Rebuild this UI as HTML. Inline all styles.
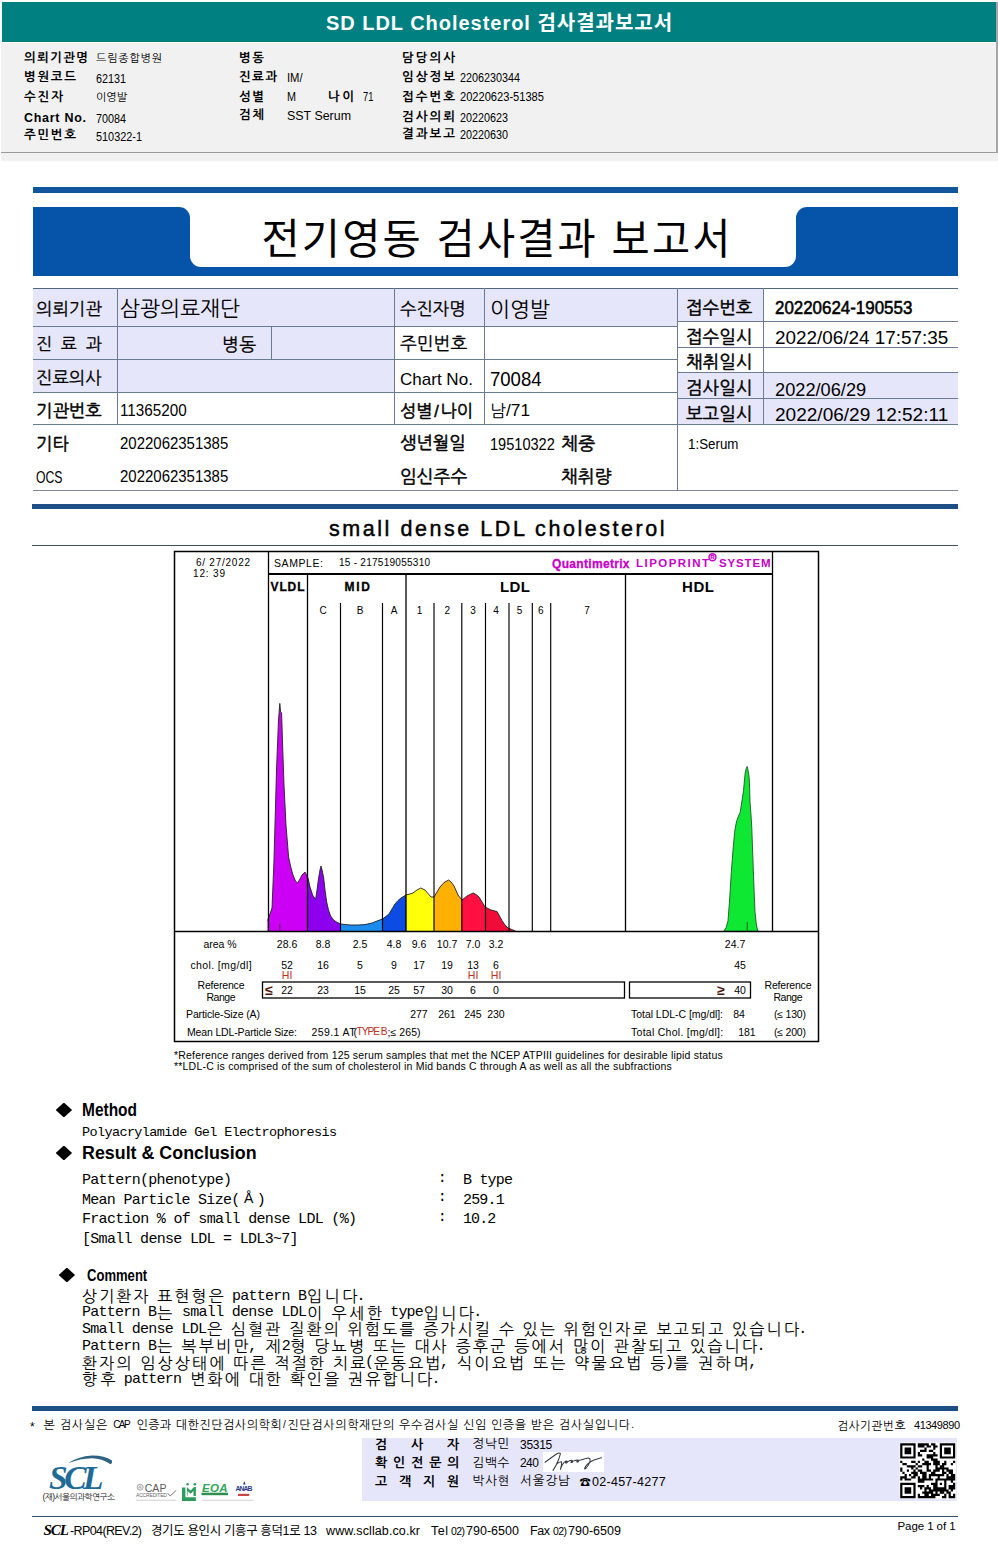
<!DOCTYPE html>
<html lang="ko">
<head>
<meta charset="utf-8">
<title>SD LDL Cholesterol 검사결과보고서</title>
<style>
html,body{margin:0;padding:0;background:#fff}
#page{position:relative;width:998px;height:1564px;overflow:hidden;background:#fff;color:#000;font-family:'Liberation Sans','NanumGothic','Noto Sans CJK KR',sans-serif}
section,header,footer{display:block;margin:0;padding:0}
.b{position:absolute;box-sizing:border-box}
.t{position:absolute;white-space:pre;line-height:1;margin:0;padding:0}
svg{position:absolute;left:0;top:0;overflow:visible}
</style>
</head>
<body>
<div id="page">
<header id="header" aria-label="SD LDL Cholesterol 검사결과보고서">
<div class="b" style="left:2px;top:2px;width:994.5px;height:39.5px;background:#008080;"></div>
<div class="b" style="left:1px;top:43.3px;width:997px;height:117.7px;background:#f1f1f1;"></div>
<div class="b" style="left:1px;top:152px;width:997px;height:1.2px;background:#9a9a9a;"></div>
<div class="b" style="left:996.3px;top:2px;width:1.7px;height:151px;background:#a6a6a6;"></div>
<span class="t" style="top:13.4px;left:326.0px;font-size:20px;font-weight:700;font-family:'Liberation Sans','Noto Sans CJK KR','NanumGothic',sans-serif;color:#fff;letter-spacing:0.97px">SD LDL Cholesterol 검사결과보고서</span>
<span class="t" style="top:51.5px;left:24.0px;font-size:12.5px;font-weight:700;letter-spacing:1.31px">의뢰기관명</span>
<span class="t" style="top:52.9px;left:96.0px;font-size:11px;letter-spacing:0.79px">드림종합병원</span>
<span class="t" style="top:71.3px;left:24.0px;font-size:12.5px;font-weight:700;letter-spacing:1.66px">병원코드</span>
<span class="t" style="top:73.1px;left:96.0px;font-size:12.5px;transform:scaleX(0.863);transform-origin:0 50%">62131</span>
<span class="t" style="top:90.8px;left:24.0px;font-size:12.5px;font-weight:700;letter-spacing:1.87px">수진자</span>
<span class="t" style="top:91.9px;left:96.0px;font-size:11px;letter-spacing:-0.02px">이영발</span>
<span class="t" style="top:111.8px;left:24.0px;font-size:12.5px;font-weight:700;letter-spacing:0.72px">Chart No.</span>
<span class="t" style="top:113.4px;left:96.0px;font-size:12.5px;transform:scaleX(0.863);transform-origin:0 50%">70084</span>
<span class="t" style="top:128.9px;left:24.0px;font-size:12.5px;font-weight:700;letter-spacing:1.66px">주민번호</span>
<span class="t" style="top:130.6px;left:96.0px;font-size:12.5px;transform:scaleX(0.871);transform-origin:0 50%">510322-1</span>
<span class="t" style="top:51.5px;left:239.0px;font-size:12.5px;font-weight:700;letter-spacing:1.48px">병동</span>
<span class="t" style="top:71.3px;left:239.0px;font-size:12.5px;font-weight:700;letter-spacing:1.37px">진료과</span>
<span class="t" style="top:71.9px;left:287.0px;font-size:12.5px;transform:scaleX(0.899);transform-origin:0 50%">IM/</span>
<span class="t" style="top:90.8px;left:239.0px;font-size:12.5px;font-weight:700;letter-spacing:1.48px">성별</span>
<span class="t" style="top:91.2px;left:287.0px;font-size:12.5px;transform:scaleX(0.864);transform-origin:0 50%">M</span>
<span class="t" style="top:90.8px;left:328.0px;font-size:12.5px;font-weight:700;letter-spacing:2.48px">나이</span>
<span class="t" style="top:91.2px;left:363.0px;font-size:12.5px;transform:scaleX(0.748);transform-origin:0 50%">71</span>
<span class="t" style="top:109.4px;left:239.0px;font-size:12.5px;font-weight:700;letter-spacing:1.48px">검체</span>
<span class="t" style="top:109.9px;left:287.0px;font-size:12.5px;transform:scaleX(0.994);transform-origin:0 50%">SST Serum</span>
<span class="t" style="top:51.5px;left:402.0px;font-size:12.5px;font-weight:700;letter-spacing:1.99px">담당의사</span>
<span class="t" style="top:71.3px;left:402.0px;font-size:12.5px;font-weight:700;letter-spacing:1.99px">임상정보</span>
<span class="t" style="top:71.7px;left:459.5px;font-size:12.5px;transform:scaleX(0.863);transform-origin:0 50%">2206230344</span>
<span class="t" style="top:90.8px;left:402.0px;font-size:12.5px;font-weight:700;letter-spacing:1.99px">접수번호</span>
<span class="t" style="top:91.2px;left:459.5px;font-size:12.5px;transform:scaleX(0.888);transform-origin:0 50%">20220623-51385</span>
<span class="t" style="top:111.4px;left:402.0px;font-size:12.5px;font-weight:700;letter-spacing:1.99px">검사의뢰</span>
<span class="t" style="top:111.9px;left:459.5px;font-size:12.5px;transform:scaleX(0.863);transform-origin:0 50%">20220623</span>
<span class="t" style="top:128.2px;left:402.0px;font-size:12.5px;font-weight:700;letter-spacing:1.99px">결과보고</span>
<span class="t" style="top:128.7px;left:459.5px;font-size:12.5px;transform:scaleX(0.863);transform-origin:0 50%">20220630</span>
</header>
<section id="banner" aria-label="전기영동 검사결과 보고서">
<div class="b" style="left:32.5px;top:187.2px;width:925.5px;height:6.3px;background:#11559c;"></div>
<div class="b" style="left:32.5px;top:207.2px;width:925.5px;height:69px;background:#0654aa;"></div>
<div class="b" style="left:190px;top:205px;width:606px;height:62px;background:#fff;border-radius:0 0 11px 11px;"></div>
<div class="b" style="left:170px;top:207.2px;width:20px;height:20px;background:#fff;"></div>
<div class="b" style="left:150px;top:207.2px;width:40px;height:40px;background:#0654aa;border-radius:0 11px 0 0;"></div>
<div class="b" style="left:796px;top:207.2px;width:20px;height:20px;background:#fff;"></div>
<div class="b" style="left:796px;top:207.2px;width:40px;height:40px;background:#0654aa;border-radius:11px 0 0 0;"></div>
<span class="t" style="top:219.0px;left:261.5px;font-size:41.5px;font-family:'Liberation Sans','Noto Sans CJK KR','NanumGothic',sans-serif;letter-spacing:2.16px">전기영동 검사결과 보고서</span>
</section>
<section id="info" aria-label="환자 및 접수 정보">
<div class="b" style="left:33px;top:288px;width:644px;height:38px;background:#e6e6fa;"></div>
<div class="b" style="left:33px;top:326px;width:361px;height:66px;background:#e6e6fa;"></div>
<div class="b" style="left:677px;top:288px;width:86px;height:33px;background:#e6e6fa;"></div>
<div class="b" style="left:677px;top:372px;width:281px;height:52px;background:#e6e6fa;"></div>
<div class="b" style="left:33px;top:287.5px;width:925px;height:1.6px;background:#55657d;"></div>
<div class="b" style="left:33px;top:325.5px;width:644px;height:1.3px;background:#6b7b93;"></div>
<div class="b" style="left:33px;top:359px;width:644px;height:1.3px;background:#6b7b93;"></div>
<div class="b" style="left:33px;top:391.5px;width:644px;height:1.3px;background:#6b7b93;"></div>
<div class="b" style="left:33px;top:423.5px;width:925px;height:1.3px;background:#6b7b93;"></div>
<div class="b" style="left:677px;top:320.5px;width:281px;height:1.3px;background:#6b7b93;"></div>
<div class="b" style="left:677px;top:346.5px;width:281px;height:1.3px;background:#6b7b93;"></div>
<div class="b" style="left:677px;top:372px;width:281px;height:1.3px;background:#6b7b93;"></div>
<div class="b" style="left:677px;top:398px;width:281px;height:1.3px;background:#6b7b93;"></div>
<div class="b" style="left:33px;top:490px;width:925px;height:1.4px;background:#7f8890;"></div>
<div class="b" style="left:117px;top:288px;width:1.3px;height:136px;background:#6b7b93;"></div>
<div class="b" style="left:394px;top:288px;width:1.3px;height:136px;background:#6b7b93;"></div>
<div class="b" style="left:484px;top:288px;width:1.3px;height:136px;background:#6b7b93;"></div>
<div class="b" style="left:677px;top:288px;width:1.3px;height:203px;background:#6b7b93;"></div>
<div class="b" style="left:762.5px;top:288px;width:1.3px;height:136px;background:#6b7b93;"></div>
<div class="b" style="left:270.5px;top:326px;width:1.3px;height:33px;background:#6b7b93;"></div>
<div class="b" style="left:32px;top:504px;width:926px;height:5px;background:#1e4f84;"></div>
<div class="b" style="left:32px;top:545px;width:926px;height:1.3px;background:#3e505e;"></div>
<span class="t" style="top:301.1px;left:36.0px;font-size:17.45px;-webkit-text-stroke:0.3px #000;letter-spacing:0.01px">의뢰기관</span>
<span class="t" style="top:299.3px;left:120.0px;font-size:21.28px;letter-spacing:0.01px">삼광의료재단</span>
<span class="t" style="top:336.4px;left:36.0px;font-size:17px;-webkit-text-stroke:0.3px #000">진</span>
<span class="t" style="top:336.4px;left:61.0px;font-size:17px;-webkit-text-stroke:0.3px #000">료</span>
<span class="t" style="top:336.4px;left:86.0px;font-size:17px;-webkit-text-stroke:0.3px #000">과</span>
<span class="t" style="top:335.8px;left:222.0px;font-size:18.09px;-webkit-text-stroke:0.3px #000">병동</span>
<span class="t" style="top:370.1px;left:36.0px;font-size:17.45px;-webkit-text-stroke:0.3px #000;letter-spacing:0.01px">진료의사</span>
<span class="t" style="top:402.6px;left:36.0px;font-size:17.45px;-webkit-text-stroke:0.5px #000;letter-spacing:0.01px">기관번호</span>
<span class="t" style="top:403.0px;left:120.0px;font-size:16.67px;transform:scaleX(0.915);transform-origin:0 50%">11365200</span>
<span class="t" style="top:435.6px;left:36.0px;font-size:17.45px;-webkit-text-stroke:0.5px #000">기타</span>
<span class="t" style="top:436.0px;left:120.0px;font-size:16.67px;transform:scaleX(0.899);transform-origin:0 50%">2022062351385</span>
<span class="t" style="top:468.9px;left:36.0px;font-size:16.5px;transform:scaleX(.74);transform-origin:0 50%">OCS</span>
<span class="t" style="top:468.7px;left:120.0px;font-size:16.67px;transform:scaleX(0.899);transform-origin:0 50%">2022062351385</span>
<span class="t" style="top:301.1px;left:400.0px;font-size:17.45px;-webkit-text-stroke:0.3px #000;letter-spacing:0.01px">수진자명</span>
<span class="t" style="top:300.3px;left:490.0px;font-size:21.28px;letter-spacing:0.02px">이영발</span>
<span class="t" style="top:335.9px;left:400.0px;font-size:17.87px;-webkit-text-stroke:0.3px #000;letter-spacing:0.01px">주민번호</span>
<span class="t" style="top:370.8px;left:400.0px;font-size:16.2px;transform:scaleX(1.052);transform-origin:0 50%">Chart No.</span>
<span class="t" style="top:368.6px;left:490.0px;font-size:20.6px;transform:scaleX(0.899);transform-origin:0 50%">70084</span>
<span class="t" style="top:402.8px;left:400.0px;font-size:17.23px;-webkit-text-stroke:0.5px #000;letter-spacing:0.02px">성별</span>
<span class="t" style="top:403.3px;left:434.2px;font-size:16.2px;-webkit-text-stroke:0.5px #000">/</span>
<span class="t" style="top:402.8px;left:440.5px;font-size:17.23px;-webkit-text-stroke:0.5px #000;letter-spacing:0.02px">나이</span>
<span class="t" style="top:402.9px;left:490.0px;font-size:17.02px">남</span>
<span class="t" style="top:403.4px;left:506.0px;font-size:16.0px;transform:scaleX(1.079);transform-origin:0 50%">/71</span>
<span class="t" style="top:435.1px;left:400.0px;font-size:17.45px;-webkit-text-stroke:0.5px #000;letter-spacing:0.01px">생년월일</span>
<span class="t" style="top:435.8px;left:490.0px;font-size:16.2px;transform:scaleX(0.900);transform-origin:0 50%">19510322</span>
<span class="t" style="top:434.8px;left:561.0px;font-size:18.09px;-webkit-text-stroke:0.5px #000">체중</span>
<span class="t" style="top:468.9px;left:400.0px;font-size:17.87px;-webkit-text-stroke:0.5px #000;letter-spacing:0.01px">임신주수</span>
<span class="t" style="top:468.9px;left:561.0px;font-size:17.87px;-webkit-text-stroke:0.5px #000;letter-spacing:0.01px">채취량</span>
<span class="t" style="top:299.5px;left:686.0px;font-size:17.66px;-webkit-text-stroke:0.5px #000">접수번호</span>
<span class="t" style="top:299.2px;left:775.0px;font-size:18.3px;-webkit-text-stroke:0.55px #000;transform:scaleX(0.925);transform-origin:0 50%">20220624-190553</span>
<span class="t" style="top:328.5px;left:686.0px;font-size:17.66px;-webkit-text-stroke:0.5px #000">접수일시</span>
<span class="t" style="top:328.8px;left:775.0px;font-size:18.24px;transform:scaleX(1.036);transform-origin:0 50%">2022/06/24 17:57:35</span>
<span class="t" style="top:354.0px;left:686.0px;font-size:17.66px;-webkit-text-stroke:0.5px #000">채취일시</span>
<span class="t" style="top:380.0px;left:686.0px;font-size:17.66px;-webkit-text-stroke:0.5px #000">검사일시</span>
<span class="t" style="top:380.8px;left:775.0px;font-size:18.24px;transform:scaleX(0.999);transform-origin:0 50%">2022/06/29</span>
<span class="t" style="top:406.0px;left:686.0px;font-size:17.66px;-webkit-text-stroke:0.5px #000">보고일시</span>
<span class="t" style="top:406.3px;left:775.0px;font-size:18.24px;transform:scaleX(1.044);transform-origin:0 50%">2022/06/29 12:52:11</span>
<span class="t" style="top:437.1px;left:688.0px;font-size:14.4px;transform:scaleX(0.927);transform-origin:0 50%">1:Serum</span>
</section>
<section id="chart" aria-label="small dense LDL cholesterol">
<svg width="998" height="1564" viewBox="0 0 998 1564">
<path d="M267.5 931.5 L267.5 920.5 L270.0 914.0 L272.0 908.0 L274.0 860.0 L276.5 770.0 L278.5 720.0 L279.8 703.4 L280.6 712.0 L281.6 713.0 L282.6 745.0 L284.0 785.0 L286.0 825.0 L288.6 857.0 L291.0 868.0 L293.0 875.0 L295.5 881.0 L297.6 883.0 L300.0 879.0 L302.0 875.0 L305.0 872.0 L307.5 877.0 L307.5 931.5Z" fill="#cc00f5"/>
<path d="M307.5 931.5 L307.5 877.0 L308.0 878.0 L310.0 887.0 L312.6 895.0 L315.6 899.4 L317.0 890.0 L318.6 878.0 L320.0 870.0 L321.0 866.0 L322.3 871.0 L323.7 878.0 L325.0 890.0 L326.7 902.0 L328.5 910.0 L330.6 916.0 L333.5 920.0 L336.6 922.0 L340.5 924.0 L340.5 931.5Z" fill="#8c00ee"/>
<path d="M340.5 931.5 L340.5 924.0 L350.0 925.0 L358.0 925.0 L365.0 924.6 L372.0 923.0 L377.0 921.0 L382.5 919.0 L382.5 931.5Z" fill="#1a8cee"/>
<path d="M382.5 931.5 L382.5 919.0 L382.6 919.0 L389.0 914.0 L392.0 909.0 L395.0 904.0 L398.0 900.5 L401.0 898.0 L406.0 895.0 L406.0 931.5Z" fill="#0c4ce4"/>
<path d="M406.0 931.5 L406.0 895.0 L410.0 894.0 L413.0 893.0 L417.0 890.0 L420.8 888.0 L425.0 890.0 L428.0 893.5 L431.0 897.0 L434.0 897.0 L434.0 931.5Z" fill="#ffff0a"/>
<path d="M434.0 931.5 L434.0 897.0 L437.0 892.0 L440.0 887.0 L444.0 882.5 L448.7 880.0 L451.5 882.5 L454.0 886.0 L458.0 895.0 L462.0 900.0 L462.0 931.5Z" fill="#ffb000"/>
<path d="M462.0 931.5 L462.0 900.0 L467.0 896.0 L473.0 893.0 L476.0 894.5 L479.0 897.0 L482.0 902.0 L485.0 907.0 L485.5 907.2 L485.5 931.5Z" fill="#ff1040"/>
<path d="M485.5 931.5 L485.5 907.2 L491.0 910.0 L497.0 911.5 L499.5 916.0 L502.0 920.5 L505.0 925.0 L508.0 928.0 L515.5 931.0 L515.5 931.0 L515.5 931.5Z" fill="#f00c38"/>
<path d="M267.5 920.5 L270.0 914.0 L272.0 908.0 L274.0 860.0 L276.5 770.0 L278.5 720.0 L279.8 703.4 L280.6 712.0 L281.6 713.0 L282.6 745.0 L284.0 785.0 L286.0 825.0 L288.6 857.0 L291.0 868.0 L293.0 875.0 L295.5 881.0 L297.6 883.0 L300.0 879.0 L302.0 875.0 L305.0 872.0 L308.0 878.0 L310.0 887.0 L312.6 895.0 L315.6 899.4 L317.0 890.0 L318.6 878.0 L320.0 870.0 L321.0 866.0 L322.3 871.0 L323.7 878.0 L325.0 890.0 L326.7 902.0 L328.5 910.0 L330.6 916.0 L333.5 920.0 L336.6 922.0 L340.5 924.0 L350.0 925.0 L358.0 925.0 L365.0 924.6 L372.0 923.0 L377.0 921.0 L382.6 919.0 L389.0 914.0 L392.0 909.0 L395.0 904.0 L398.0 900.5 L401.0 898.0 L406.0 895.0 L410.0 894.0 L413.0 893.0 L417.0 890.0 L420.8 888.0 L425.0 890.0 L428.0 893.5 L431.0 897.0 L434.0 897.0 L437.0 892.0 L440.0 887.0 L444.0 882.5 L448.7 880.0 L451.5 882.5 L454.0 886.0 L458.0 895.0 L462.0 900.0 L467.0 896.0 L473.0 893.0 L476.0 894.5 L479.0 897.0 L482.0 902.0 L485.0 907.0 L491.0 910.0 L497.0 911.5 L499.5 916.0 L502.0 920.5 L505.0 925.0 L508.0 928.0 L515.5 931.0" fill="none" stroke="#222" stroke-width="0.9" stroke-linejoin="round"/>
<path d="M723.6 931.4 L726.0 928.0 L728.0 920.8 L729.6 900.0 L731.3 872.3 L733.0 850.0 L734.6 832.6 L735.6 826.0 L736.8 820.5 L738.5 816.0 L740.1 812.7 L741.8 802.0 L743.5 790.7 L744.4 781.0 L745.2 773.0 L746.2 768.5 L747.2 766.5 L748.2 771.0 L749.2 777.5 L749.7 790.0 L750.0 801.7 L751.0 815.0 L751.8 828.0 L752.6 850.0 L753.4 872.0 L754.2 893.0 L755.0 912.0 L756.3 924.0 L757.8 931.4Z" fill="#0ee832" stroke="#1a5a22" stroke-width="0.9" stroke-linejoin="round"/>
<path d="M747.2 922V931.5M279.8 924V931.5" stroke="#333" stroke-width="0.8"/>
<rect x="174.5" y="551.5" width="644" height="490" fill="none" stroke="#000" stroke-width="1.5"/>
<path d="M268.5 551.5V931.5M772.5 551.5V931.5M174.5 931.5H818.5" stroke="#000" stroke-width="1.3" fill="none"/>
<path d="M268.5 574H772.5" stroke="#000" stroke-width="2"/>
<path d="M307.5 574V931.5M406 574V931.5M625.5 574V931.5" stroke="#000" stroke-width="1.3"/>
<path d="M340.5 603V931.5 M382.5 603V931.5 M434 603V931.5 M461.8 603V931.5 M485.5 603V931.5 M509 603V931.5 M532.3 603V931.5 M550.7 603V931.5" stroke="#000" stroke-width="1.15"/>
<rect x="262.5" y="982" width="362" height="16" fill="none" stroke="#000" stroke-width="1.3"/>
<rect x="629.5" y="982" width="121" height="16" fill="none" stroke="#000" stroke-width="1.3"/>
<circle cx="712.5" cy="557.3" r="3.5" fill="#f3c4f3" stroke="#c800c8" stroke-width="1.4"/>
</svg>
<span class="t" style="top:519.0px;left:329.0px;font-size:21.5px;-webkit-text-stroke:0.45px #000;letter-spacing:2.55px">small dense LDL cholesterol</span>
<span class="t" style="top:558.1px;left:196.0px;font-size:10px;letter-spacing:0.75px">6/ 27/2022</span>
<span class="t" style="top:569.1px;left:193.0px;font-size:10px;letter-spacing:0.84px">12: 39</span>
<span class="t" style="top:557.9px;left:274.0px;font-size:10.5px;letter-spacing:0.58px">SAMPLE:</span>
<span class="t" style="top:558.1px;left:339.0px;font-size:10px;letter-spacing:0.27px">15 - 217519055310</span>
<span class="t" style="top:557.9px;left:552.0px;font-size:12px;font-weight:700;color:#c800c8;-webkit-text-stroke:0.3px #c800c8;letter-spacing:0.32px">Quantimetrix</span>
<span class="t" style="top:558.2px;left:636.0px;font-size:11.5px;font-weight:700;color:#c800c8;letter-spacing:1.46px">LIPOPRINT</span>
<span class="t" style="top:558.2px;left:719.0px;font-size:11.5px;font-weight:700;color:#c800c8;letter-spacing:0.84px">SYSTEM</span>
<span class="t" style="top:554.4px;left:710.3px;font-size:6px;font-weight:700;color:#c800c8">R</span>
<span class="t" style="top:581.1px;left:270.5px;font-size:12px;font-weight:700;-webkit-text-stroke:0.3px #000;letter-spacing:0.89px">VLDL</span>
<span class="t" style="top:581.1px;left:344.5px;font-size:12px;font-weight:700;-webkit-text-stroke:0.3px #000;letter-spacing:1.75px">MID</span>
<span class="t" style="top:578.9px;left:500.0px;font-size:15px;font-weight:700;letter-spacing:0.41px">LDL</span>
<span class="t" style="top:578.9px;left:682.0px;font-size:15px;font-weight:700;letter-spacing:0.59px">HDL</span>
<span class="t" style="top:605.5px;left:319.4px;font-size:10px">C</span>
<span class="t" style="top:605.5px;left:356.7px;font-size:10px">B</span>
<span class="t" style="top:605.5px;left:390.7px;font-size:10px">A</span>
<span class="t" style="top:605.5px;left:416.8px;font-size:10px">1</span>
<span class="t" style="top:605.5px;left:444.5px;font-size:10px">2</span>
<span class="t" style="top:605.5px;left:470.2px;font-size:10px">3</span>
<span class="t" style="top:605.5px;left:493.2px;font-size:10px">4</span>
<span class="t" style="top:605.5px;left:516.7px;font-size:10px">5</span>
<span class="t" style="top:605.5px;left:538.0px;font-size:10px">6</span>
<span class="t" style="top:605.5px;left:584.2px;font-size:10px">7</span>
<span class="t" style="top:938.9px;left:203.5px;font-size:10.5px;letter-spacing:-0.06px">area %</span>
<span class="t" style="top:938.9px;left:276.8px;font-size:10.5px">28.6</span>
<span class="t" style="top:938.9px;left:315.7px;font-size:10.5px">8.8</span>
<span class="t" style="top:938.9px;left:352.7px;font-size:10.5px">2.5</span>
<span class="t" style="top:938.9px;left:386.7px;font-size:10.5px">4.8</span>
<span class="t" style="top:938.9px;left:411.7px;font-size:10.5px">9.6</span>
<span class="t" style="top:938.9px;left:436.8px;font-size:10.5px">10.7</span>
<span class="t" style="top:938.9px;left:465.7px;font-size:10.5px">7.0</span>
<span class="t" style="top:938.9px;left:488.7px;font-size:10.5px">3.2</span>
<span class="t" style="top:938.9px;left:724.8px;font-size:10.5px">24.7</span>
<span class="t" style="top:959.9px;left:190.5px;font-size:10.5px;letter-spacing:0.37px">chol. [mg/dl]</span>
<span class="t" style="top:959.9px;left:281.2px;font-size:10.5px">52</span>
<span class="t" style="top:959.9px;left:317.2px;font-size:10.5px">16</span>
<span class="t" style="top:959.9px;left:357.1px;font-size:10.5px">5</span>
<span class="t" style="top:959.9px;left:391.1px;font-size:10.5px">9</span>
<span class="t" style="top:959.9px;left:413.2px;font-size:10.5px">17</span>
<span class="t" style="top:959.9px;left:441.2px;font-size:10.5px">19</span>
<span class="t" style="top:959.9px;left:467.2px;font-size:10.5px">13</span>
<span class="t" style="top:959.9px;left:493.1px;font-size:10.5px">6</span>
<span class="t" style="top:959.9px;left:734.2px;font-size:10.5px">45</span>
<span class="t" style="top:970.2px;left:281.8px;font-size:10.5px;color:#c03020">HI</span>
<span class="t" style="top:970.2px;left:467.8px;font-size:10.5px;color:#c03020">HI</span>
<span class="t" style="top:970.2px;left:490.8px;font-size:10.5px;color:#c03020">HI</span>
<span class="t" style="top:980.4px;left:197.5px;font-size:10.5px;letter-spacing:-0.18px">Reference</span>
<span class="t" style="top:991.9px;left:206.5px;font-size:10.5px;letter-spacing:-0.49px">Range</span>
<span class="t" style="top:980.4px;left:764.5px;font-size:10.5px;letter-spacing:-0.18px">Reference</span>
<span class="t" style="top:991.9px;left:773.5px;font-size:10.5px;letter-spacing:-0.49px">Range</span>
<span class="t" style="top:982.6px;left:265.2px;font-size:14px;font-weight:700;color:#4a1808">≤</span>
<span class="t" style="top:985.4px;left:281.2px;font-size:10.5px">22</span>
<span class="t" style="top:985.4px;left:317.2px;font-size:10.5px">23</span>
<span class="t" style="top:985.4px;left:354.2px;font-size:10.5px">15</span>
<span class="t" style="top:985.4px;left:388.2px;font-size:10.5px">25</span>
<span class="t" style="top:985.4px;left:413.2px;font-size:10.5px">57</span>
<span class="t" style="top:985.4px;left:441.2px;font-size:10.5px">30</span>
<span class="t" style="top:985.4px;left:470.1px;font-size:10.5px">6</span>
<span class="t" style="top:985.4px;left:493.1px;font-size:10.5px">0</span>
<span class="t" style="top:982.6px;left:717.2px;font-size:14px;font-weight:700;color:#4a1808">≥</span>
<span class="t" style="top:985.4px;left:734.2px;font-size:10.5px">40</span>
<span class="t" style="top:1008.9px;left:186.0px;font-size:10.5px;letter-spacing:-0.12px">Particle-Size (A)</span>
<span class="t" style="top:1008.9px;left:410.2px;font-size:10.5px">277</span>
<span class="t" style="top:1008.9px;left:438.2px;font-size:10.5px">261</span>
<span class="t" style="top:1008.9px;left:464.2px;font-size:10.5px">245</span>
<span class="t" style="top:1008.9px;left:487.2px;font-size:10.5px">230</span>
<span class="t" style="top:1008.9px;left:631.0px;font-size:10.5px;letter-spacing:-0.04px">Total LDL-C [mg/dl]:</span>
<span class="t" style="top:1008.9px;left:733.2px;font-size:10.5px">84</span>
<span class="t" style="top:1008.9px;left:774.0px;font-size:10.5px;letter-spacing:-0.20px">(≤ 130)</span>
<span class="t" style="top:1026.9px;left:187.0px;font-size:10.5px;letter-spacing:-0.15px">Mean LDL-Particle Size:</span>
<span class="t" style="top:1026.9px;left:311.6px;font-size:10.5px;letter-spacing:0.39px">259.1 AT</span>
<span class="t" style="top:1026.9px;left:353.5px;font-size:10.5px">(</span>
<span class="t" style="top:1027.0px;left:356.5px;font-size:10.3px;color:#c03020;letter-spacing:-1.12px">TYPE B</span>
<span class="t" style="top:1026.9px;left:387.6px;font-size:10.5px;letter-spacing:0.06px">;≤ 265)</span>
<span class="t" style="top:1026.9px;left:631.0px;font-size:10.5px;letter-spacing:0.27px">Total Chol. [mg/dl]:</span>
<span class="t" style="top:1026.9px;left:738.2px;font-size:10.5px">181</span>
<span class="t" style="top:1026.9px;left:774.0px;font-size:10.5px;letter-spacing:-0.20px">(≤ 200)</span>
<span class="t" style="top:1049.9px;left:174.0px;font-size:10.5px;letter-spacing:0.19px">*Reference ranges derived from 125 serum samples that met the NCEP ATPIII guidelines for desirable lipid status</span>
<span class="t" style="top:1060.9px;left:174.0px;font-size:10.5px;letter-spacing:0.20px">**LDL-C is comprised of the sum of cholesterol in Mid bands C through A as well as all the subfractions</span>
</section>
<section id="result" aria-label="Method, Result and Comment">
<div class="b" style="left:55.7px;top:1102.6px;width:16.4px;height:14.8px;background:#000;clip-path:polygon(50% 0,100% 50%,50% 100%,0 50%)"></div>
<div class="b" style="left:55.7px;top:1145.6px;width:16.4px;height:14.8px;background:#000;clip-path:polygon(50% 0,100% 50%,50% 100%,0 50%)"></div>
<div class="b" style="left:58.7px;top:1267.6px;width:16.4px;height:14.8px;background:#000;clip-path:polygon(50% 0,100% 50%,50% 100%,0 50%)"></div>
<span class="t" style="top:1102.4px;left:82.0px;font-size:17.5px;font-weight:700;transform:scaleX(0.884);transform-origin:0 50%">Method</span>
<span class="t" style="top:1125.7px;left:82.0px;font-size:13.5px;font-family:'Liberation Mono','NanumGothic','Noto Sans CJK KR',monospace;letter-spacing:-0.62px">Polyacrylamide Gel Electrophoresis</span>
<span class="t" style="top:1144.9px;left:82.0px;font-size:17.5px;font-weight:700;transform:scaleX(1.020);transform-origin:0 50%">Result &amp; Conclusion</span>
<span class="t" style="top:1172.5px;left:82.0px;font-size:15.0px;font-family:'Liberation Mono','NanumGothic','Noto Sans CJK KR',monospace;letter-spacing:-0.71px">Pattern(phenotype)</span>
<span class="t" style="top:1192.5px;left:82.0px;font-size:15.0px;font-family:'Liberation Mono','NanumGothic','Noto Sans CJK KR',monospace;letter-spacing:-0.71px">Mean Particle Size(</span>
<span class="t" style="top:1191.1px;left:244.0px;font-size:14px">Å</span>
<span class="t" style="top:1192.5px;left:256.7px;font-size:15.0px;font-family:'Liberation Mono','NanumGothic','Noto Sans CJK KR',monospace">)</span>
<span class="t" style="top:1212.0px;left:82.0px;font-size:15.0px;font-family:'Liberation Mono','NanumGothic','Noto Sans CJK KR',monospace;letter-spacing:-0.69px">Fraction % of small dense LDL (%)</span>
<span class="t" style="top:1231.5px;left:82.0px;font-size:15.0px;font-family:'Liberation Mono','NanumGothic','Noto Sans CJK KR',monospace;letter-spacing:-0.70px">[Small dense LDL = LDL3~7]</span>
<span class="t" style="top:1170.5px;left:437.7px;font-size:15.0px;font-family:'Liberation Mono','NanumGothic','Noto Sans CJK KR',monospace">:</span>
<span class="t" style="top:1190.0px;left:437.7px;font-size:15.0px;font-family:'Liberation Mono','NanumGothic','Noto Sans CJK KR',monospace">:</span>
<span class="t" style="top:1209.5px;left:437.7px;font-size:15.0px;font-family:'Liberation Mono','NanumGothic','Noto Sans CJK KR',monospace">:</span>
<span class="t" style="top:1172.5px;left:463.0px;font-size:15.0px;font-family:'Liberation Mono','NanumGothic','Noto Sans CJK KR',monospace;letter-spacing:-0.80px">B type</span>
<span class="t" style="top:1192.5px;left:463.0px;font-size:15.0px;font-family:'Liberation Mono','NanumGothic','Noto Sans CJK KR',monospace;letter-spacing:-0.84px">259.1</span>
<span class="t" style="top:1212.0px;left:463.0px;font-size:15.0px;font-family:'Liberation Mono','NanumGothic','Noto Sans CJK KR',monospace;letter-spacing:-0.89px">10.2</span>
<span class="t" style="top:1267.2px;left:87.0px;font-size:17px;font-weight:700;transform:scaleX(0.768);transform-origin:0 50%">Comment</span>
<span class="t" style="top:1287.9px;left:82.0px;font-size:16.08px;letter-spacing:2.03px">상기환자 표현형은</span>
<span class="t" style="top:1288.5px;left:232.0px;font-size:15.0px;font-family:'Liberation Mono','NanumGothic','Noto Sans CJK KR',monospace;letter-spacing:-0.75px">pattern B</span>
<span class="t" style="top:1287.9px;left:307.0px;font-size:16.08px;letter-spacing:2.33px">입니다</span>
<span class="t" style="top:1288.5px;left:356.6px;font-size:15.0px;font-family:'Liberation Mono','NanumGothic','Noto Sans CJK KR',monospace">.</span>
<span class="t" style="top:1305.2px;left:82.0px;font-size:15.0px;font-family:'Liberation Mono','NanumGothic','Noto Sans CJK KR',monospace;letter-spacing:-0.75px">Pattern B</span>
<span class="t" style="top:1304.6px;left:157.0px;font-size:16.08px">는</span>
<span class="t" style="top:1305.2px;left:182.0px;font-size:15.0px;font-family:'Liberation Mono','NanumGothic','Noto Sans CJK KR',monospace;letter-spacing:-0.72px">small dense LDL</span>
<span class="t" style="top:1304.6px;left:307.0px;font-size:16.08px;letter-spacing:2.52px">이 우세한</span>
<span class="t" style="top:1305.2px;left:390.3px;font-size:15.0px;font-family:'Liberation Mono','NanumGothic','Noto Sans CJK KR',monospace;letter-spacing:-0.89px">type</span>
<span class="t" style="top:1304.6px;left:423.7px;font-size:16.08px;letter-spacing:2.33px">입니다</span>
<span class="t" style="top:1305.2px;left:473.3px;font-size:15.0px;font-family:'Liberation Mono','NanumGothic','Noto Sans CJK KR',monospace">.</span>
<span class="t" style="top:1321.8px;left:82.0px;font-size:15.0px;font-family:'Liberation Mono','NanumGothic','Noto Sans CJK KR',monospace;letter-spacing:-0.72px">Small dense LDL</span>
<span class="t" style="top:1321.2px;left:207.0px;font-size:16.08px;letter-spacing:2.13px">은 심혈관 질환의 위험도를 증가시킬 수 있는 위험인자로 보고되고 있습니다</span>
<span class="t" style="top:1321.8px;left:798.3px;font-size:15.0px;font-family:'Liberation Mono','NanumGothic','Noto Sans CJK KR',monospace">.</span>
<span class="t" style="top:1338.5px;left:82.0px;font-size:15.0px;font-family:'Liberation Mono','NanumGothic','Noto Sans CJK KR',monospace;letter-spacing:-0.75px">Pattern B</span>
<span class="t" style="top:1337.9px;left:157.0px;font-size:16.08px;letter-spacing:2.32px">는 복부비만</span>
<span class="t" style="top:1338.5px;left:248.3px;font-size:15.0px;font-family:'Liberation Mono','NanumGothic','Noto Sans CJK KR',monospace">,</span>
<span class="t" style="top:1337.9px;left:265.3px;font-size:16.08px">제</span>
<span class="t" style="top:1338.5px;left:281.7px;font-size:15.0px;font-family:'Liberation Mono','NanumGothic','Noto Sans CJK KR',monospace">2</span>
<span class="t" style="top:1337.9px;left:290.3px;font-size:16.08px;letter-spacing:2.20px">형 당뇨병 또는 대사 증후군 등에서 많이 관찰되고 있습니다</span>
<span class="t" style="top:1338.5px;left:756.6px;font-size:15.0px;font-family:'Liberation Mono','NanumGothic','Noto Sans CJK KR',monospace">.</span>
<span class="t" style="top:1354.6px;left:82.0px;font-size:16.08px;letter-spacing:2.15px">환자의 임상상태에 따른 적절한 치료</span>
<span class="t" style="top:1355.2px;left:365.0px;font-size:15.0px;font-family:'Liberation Mono','NanumGothic','Noto Sans CJK KR',monospace">(</span>
<span class="t" style="top:1354.6px;left:373.7px;font-size:16.08px;letter-spacing:2.07px">운동요법</span>
<span class="t" style="top:1355.2px;left:440.0px;font-size:15.0px;font-family:'Liberation Mono','NanumGothic','Noto Sans CJK KR',monospace">,</span>
<span class="t" style="top:1354.6px;left:457.0px;font-size:16.08px;letter-spacing:2.21px">식이요법 또는 약물요법 등</span>
<span class="t" style="top:1355.2px;left:665.0px;font-size:15.0px;font-family:'Liberation Mono','NanumGothic','Noto Sans CJK KR',monospace">)</span>
<span class="t" style="top:1354.6px;left:673.6px;font-size:16.08px;letter-spacing:2.52px">를 권하며</span>
<span class="t" style="top:1355.2px;left:748.3px;font-size:15.0px;font-family:'Liberation Mono','NanumGothic','Noto Sans CJK KR',monospace">,</span>
<span class="t" style="top:1371.2px;left:82.0px;font-size:16.08px;letter-spacing:3.10px">향후</span>
<span class="t" style="top:1371.8px;left:123.7px;font-size:15.0px;font-family:'Liberation Mono','NanumGothic','Noto Sans CJK KR',monospace;letter-spacing:-0.78px">pattern</span>
<span class="t" style="top:1371.2px;left:190.3px;font-size:16.08px;letter-spacing:2.12px">변화에 대한 확인을 권유합니다</span>
<span class="t" style="top:1371.8px;left:431.6px;font-size:15.0px;font-family:'Liberation Mono','NanumGothic','Noto Sans CJK KR',monospace">.</span>
</section>
<footer id="footer" aria-label="검사실 정보">
<div class="b" style="left:32px;top:1406px;width:926px;height:4.6px;background:#1e4f84;"></div>
<div class="b" style="left:362px;top:1438px;width:595px;height:63px;background:#e6e6fa;"></div>
<div class="b" style="left:543px;top:1452px;width:60.5px;height:20px;background:#fff;"></div>
<div class="b" style="left:32px;top:1515.8px;width:926px;height:1.5px;background:#33506e;"></div>
<svg width="998" height="1564" viewBox="0 0 998 1564">
<path d="M68 1463.2Q78 1456.6 92 1455.6Q104 1455.4 112 1460.4Q112.6 1462.6 110.6 1464.2Q102 1458.4 92 1458.2Q80 1458.4 68 1463.2Z" fill="#2d6485"/>
<circle cx="140.2" cy="1487.2" r="3" fill="none" stroke="#8a8a8a" stroke-width="0.7"/><path d="M137.2 1487.2H143.2M140.2 1484.2V1490.2M138.2 1485.2L142.2 1489.2M142.2 1485.2L138.2 1489.2" stroke="#9a9a9a" stroke-width="0.45"/>
<path d="M167.6 1493.2l2.6 2.8l6-5.6" fill="none" stroke="#666" stroke-width="0.9"/>
<path d="M136 1500.2H176.3" stroke="#cfcfcf" stroke-width="1"/>
<path d="M182 1487.5h3.4v9.7h10.5v3.8h-13.9z" fill="#2e9c5c"/><path d="M186.9 1496v-9l3.6 3.4l3.6-3.4h1.8v9h-2.4v-5l-3 2.8l-3-2.8v5z" fill="#2e9c5c"/><circle cx="187.6" cy="1484.3" r="1.25" fill="#2e9c5c"/><circle cx="194.8" cy="1484.3" r="1.25" fill="#2e9c5c"/>
<rect x="201.5" y="1492.7" width="26.5" height="2.5" fill="#2b8f4e"/><path d="M202 1500.2H253.4" stroke="#d0d0d0" stroke-width="1"/>
<path d="M244.3 1481l1.3 3.4h-2.6z" fill="#2a3a8a"/><rect x="238" y="1493.8" width="11.2" height="2.2" fill="#c8464a"/>
<path d="M545 1462.2L556.8 1453.8Q559.4 1452.4 560.4 1453.6Q559.4 1458 557.6 1462Q555.6 1466.6 553 1470.4M556.4 1464.4Q559.4 1461.6 561.6 1461.8Q562 1465.6 560.4 1469.4Q561.6 1464.6 564.4 1462.2Q566.6 1460.2 567.4 1461.6Q567.2 1463.4 565.6 1463Q565.4 1461.4 568.6 1461.2Q571.8 1459.6 572.8 1461Q572.6 1462.8 571 1462.4Q571 1460.8 574.4 1460.8Q577.6 1459.2 578.6 1460.6Q578.4 1462.4 576.8 1462Q576.8 1460.4 580.6 1460Q584 1459.4 586 1458.4Q588.6 1457.4 589.8 1458.6Q590.6 1460.2 589.6 1462.6Q588 1466.2 585.6 1468.6Q584.6 1469.4 584.6 1468.4Q585.4 1466 588 1463.6Q591 1461.2 594 1460Q598 1458.6 601.5 1457.8" fill="none" stroke="#353a46" stroke-width="1.05" stroke-linecap="round" stroke-linejoin="round"/>
<rect x="899.7" y="1442.7" width="56" height="56" fill="#fff"/>
<path d="M900.2 1443.2h15.4v2.2h-15.4zM917.8 1443.2h11.0v2.2h-11.0zM931.0 1443.2h4.4v2.2h-4.4zM939.8 1443.2h15.4v2.2h-15.4zM900.2 1445.4h2.2v2.2h-2.2zM913.4 1445.4h2.2v2.2h-2.2zM917.8 1445.4h6.6v2.2h-6.6zM926.6 1445.4h4.4v2.2h-4.4zM933.2 1445.4h4.4v2.2h-4.4zM939.8 1445.4h2.2v2.2h-2.2zM953.0 1445.4h2.2v2.2h-2.2zM900.2 1447.6h2.2v2.2h-2.2zM904.6 1447.6h6.6v2.2h-6.6zM913.4 1447.6h2.2v2.2h-2.2zM924.4 1447.6h2.2v2.2h-2.2zM933.2 1447.6h2.2v2.2h-2.2zM939.8 1447.6h2.2v2.2h-2.2zM944.2 1447.6h6.6v2.2h-6.6zM953.0 1447.6h2.2v2.2h-2.2zM900.2 1449.8h2.2v2.2h-2.2zM904.6 1449.8h6.6v2.2h-6.6zM913.4 1449.8h2.2v2.2h-2.2zM920.0 1449.8h6.6v2.2h-6.6zM928.8 1449.8h4.4v2.2h-4.4zM939.8 1449.8h2.2v2.2h-2.2zM944.2 1449.8h6.6v2.2h-6.6zM953.0 1449.8h2.2v2.2h-2.2zM900.2 1452.0h2.2v2.2h-2.2zM904.6 1452.0h6.6v2.2h-6.6zM913.4 1452.0h2.2v2.2h-2.2zM917.8 1452.0h2.2v2.2h-2.2zM933.2 1452.0h2.2v2.2h-2.2zM939.8 1452.0h2.2v2.2h-2.2zM944.2 1452.0h6.6v2.2h-6.6zM953.0 1452.0h2.2v2.2h-2.2zM900.2 1454.2h2.2v2.2h-2.2zM913.4 1454.2h2.2v2.2h-2.2zM917.8 1454.2h4.4v2.2h-4.4zM926.6 1454.2h11.0v2.2h-11.0zM939.8 1454.2h2.2v2.2h-2.2zM953.0 1454.2h2.2v2.2h-2.2zM900.2 1456.4h15.4v2.2h-15.4zM926.6 1456.4h6.6v2.2h-6.6zM939.8 1456.4h15.4v2.2h-15.4zM922.2 1458.6h2.2v2.2h-2.2zM931.0 1458.6h6.6v2.2h-6.6zM900.2 1460.8h2.2v2.2h-2.2zM911.2 1460.8h4.4v2.2h-4.4zM917.8 1460.8h2.2v2.2h-2.2zM924.4 1460.8h4.4v2.2h-4.4zM933.2 1460.8h6.6v2.2h-6.6zM944.2 1460.8h2.2v2.2h-2.2zM953.0 1460.8h2.2v2.2h-2.2zM902.4 1463.0h4.4v2.2h-4.4zM915.6 1463.0h2.2v2.2h-2.2zM922.2 1463.0h8.8v2.2h-8.8zM933.2 1463.0h6.6v2.2h-6.6zM942.0 1463.0h4.4v2.2h-4.4zM950.8 1463.0h2.2v2.2h-2.2zM906.8 1465.2h8.8v2.2h-8.8zM917.8 1465.2h4.4v2.2h-4.4zM926.6 1465.2h2.2v2.2h-2.2zM935.4 1465.2h2.2v2.2h-2.2zM939.8 1465.2h4.4v2.2h-4.4zM900.2 1467.4h2.2v2.2h-2.2zM911.2 1467.4h2.2v2.2h-2.2zM915.6 1467.4h2.2v2.2h-2.2zM926.6 1467.4h2.2v2.2h-2.2zM935.4 1467.4h13.2v2.2h-13.2zM900.2 1469.6h2.2v2.2h-2.2zM906.8 1469.6h2.2v2.2h-2.2zM913.4 1469.6h2.2v2.2h-2.2zM917.8 1469.6h4.4v2.2h-4.4zM926.6 1469.6h4.4v2.2h-4.4zM933.2 1469.6h6.6v2.2h-6.6zM942.0 1469.6h2.2v2.2h-2.2zM946.4 1469.6h6.6v2.2h-6.6zM902.4 1471.8h2.2v2.2h-2.2zM911.2 1471.8h6.6v2.2h-6.6zM920.0 1471.8h6.6v2.2h-6.6zM931.0 1471.8h4.4v2.2h-4.4zM942.0 1471.8h4.4v2.2h-4.4zM948.6 1471.8h4.4v2.2h-4.4zM904.6 1474.0h2.2v2.2h-2.2zM909.0 1474.0h2.2v2.2h-2.2zM913.4 1474.0h4.4v2.2h-4.4zM922.2 1474.0h4.4v2.2h-4.4zM928.8 1474.0h15.4v2.2h-15.4zM946.4 1474.0h2.2v2.2h-2.2zM950.8 1474.0h4.4v2.2h-4.4zM900.2 1476.2h6.6v2.2h-6.6zM911.2 1476.2h4.4v2.2h-4.4zM917.8 1476.2h2.2v2.2h-2.2zM922.2 1476.2h4.4v2.2h-4.4zM928.8 1476.2h2.2v2.2h-2.2zM937.6 1476.2h2.2v2.2h-2.2zM946.4 1476.2h8.8v2.2h-8.8zM900.2 1478.4h2.2v2.2h-2.2zM904.6 1478.4h6.6v2.2h-6.6zM917.8 1478.4h15.4v2.2h-15.4zM935.4 1478.4h19.8v2.2h-19.8zM917.8 1480.6h6.6v2.2h-6.6zM935.4 1480.6h2.2v2.2h-2.2zM944.2 1480.6h2.2v2.2h-2.2zM950.8 1480.6h2.2v2.2h-2.2zM900.2 1482.8h15.4v2.2h-15.4zM931.0 1482.8h6.6v2.2h-6.6zM939.8 1482.8h2.2v2.2h-2.2zM944.2 1482.8h2.2v2.2h-2.2zM953.0 1482.8h2.2v2.2h-2.2zM900.2 1485.0h2.2v2.2h-2.2zM913.4 1485.0h2.2v2.2h-2.2zM917.8 1485.0h6.6v2.2h-6.6zM926.6 1485.0h2.2v2.2h-2.2zM933.2 1485.0h4.4v2.2h-4.4zM944.2 1485.0h2.2v2.2h-2.2zM948.6 1485.0h6.6v2.2h-6.6zM900.2 1487.2h2.2v2.2h-2.2zM904.6 1487.2h6.6v2.2h-6.6zM913.4 1487.2h2.2v2.2h-2.2zM920.0 1487.2h2.2v2.2h-2.2zM924.4 1487.2h6.6v2.2h-6.6zM933.2 1487.2h13.2v2.2h-13.2zM948.6 1487.2h6.6v2.2h-6.6zM900.2 1489.4h2.2v2.2h-2.2zM904.6 1489.4h6.6v2.2h-6.6zM913.4 1489.4h2.2v2.2h-2.2zM924.4 1489.4h2.2v2.2h-2.2zM928.8 1489.4h19.8v2.2h-19.8zM950.8 1489.4h2.2v2.2h-2.2zM900.2 1491.6h2.2v2.2h-2.2zM904.6 1491.6h6.6v2.2h-6.6zM913.4 1491.6h2.2v2.2h-2.2zM922.2 1491.6h11.0v2.2h-11.0zM935.4 1491.6h2.2v2.2h-2.2zM939.8 1491.6h4.4v2.2h-4.4zM946.4 1491.6h4.4v2.2h-4.4zM900.2 1493.8h2.2v2.2h-2.2zM913.4 1493.8h2.2v2.2h-2.2zM917.8 1493.8h2.2v2.2h-2.2zM924.4 1493.8h4.4v2.2h-4.4zM931.0 1493.8h8.8v2.2h-8.8zM944.2 1493.8h2.2v2.2h-2.2zM948.6 1493.8h2.2v2.2h-2.2zM953.0 1493.8h2.2v2.2h-2.2zM900.2 1496.0h15.4v2.2h-15.4zM917.8 1496.0h17.6v2.2h-17.6zM942.0 1496.0h4.4v2.2h-4.4zM948.6 1496.0h6.6v2.2h-6.6z" fill="#000"/>
</svg>
<span class="t" style="top:1421.1px;left:30.0px;font-size:12px">*</span>
<span class="t" style="top:1419.4px;left:43.5px;font-size:12px;letter-spacing:0.82px">본 검사실은</span>
<span class="t" style="top:1420.4px;left:113.2px;font-size:10px;letter-spacing:-1.57px">CAP</span>
<span class="t" style="top:1419.4px;left:136.4px;font-size:12px;letter-spacing:0.54px">인증과 대한진단검사의학회</span>
<span class="t" style="top:1420.4px;left:283.0px;font-size:10px">/</span>
<span class="t" style="top:1419.4px;left:287.3px;font-size:12px;letter-spacing:0.69px">진단검사의학재단의 우수검사실 신임 인증을 받은 검사실입니다</span>
<span class="t" style="top:1420.4px;left:631.3px;font-size:10px">.</span>
<span class="t" style="top:1419.6px;left:837.0px;font-size:11.7px;letter-spacing:0.54px">검사기관번호</span>
<span class="t" style="top:1419.9px;left:914.0px;font-size:11px;letter-spacing:-0.42px">41349890</span>
<span class="t" style="top:1437.6px;left:375.0px;font-size:13px;font-weight:700">검</span>
<span class="t" style="top:1437.6px;left:411.0px;font-size:13px;font-weight:700">사</span>
<span class="t" style="top:1437.6px;left:447.0px;font-size:13px;font-weight:700">자</span>
<span class="t" style="top:1456.2px;left:375.0px;font-size:13px;font-weight:700;letter-spacing:5.85px">확인전문의</span>
<span class="t" style="top:1475.0px;left:375.0px;font-size:13px;font-weight:700">고</span>
<span class="t" style="top:1475.0px;left:399.0px;font-size:13px;font-weight:700">객</span>
<span class="t" style="top:1475.0px;left:423.0px;font-size:13px;font-weight:700">지</span>
<span class="t" style="top:1475.0px;left:447.0px;font-size:13px;font-weight:700">원</span>
<span class="t" style="top:1438.1px;left:472.5px;font-size:12.6px;letter-spacing:0.69px">정낙민</span>
<span class="t" style="top:1438.6px;left:520.0px;font-size:12px;letter-spacing:-0.28px">35315</span>
<span class="t" style="top:1456.6px;left:472.5px;font-size:12.6px;letter-spacing:0.69px">김백수</span>
<span class="t" style="top:1457.1px;left:520.0px;font-size:12px;letter-spacing:-0.57px">240</span>
<span class="t" style="top:1475.2px;left:472.5px;font-size:12.6px;letter-spacing:0.69px">박사현</span>
<span class="t" style="top:1475.2px;left:520.0px;font-size:12.6px;letter-spacing:0.80px">서울강남</span>
<span class="t" style="top:1476.1px;left:579.5px;font-size:12px">☎</span>
<span class="t" style="top:1475.5px;left:592.0px;font-size:12.5px;letter-spacing:0.28px">02-457-4277</span>
<span class="t" style="top:1523.0px;left:43.5px;font-size:15px;font-weight:700;font-family:'Liberation Serif','Noto Serif CJK SC',serif;font-style:italic;letter-spacing:-1.01px">SCL</span>
<span class="t" style="top:1524.9px;left:70.0px;font-size:12.5px;font-family:'Liberation Sans','Noto Sans CJK KR','NanumGothic',sans-serif;letter-spacing:-0.61px">-RP04(REV.2)</span>
<span class="t" style="top:1524.9px;left:151.0px;font-size:12.5px;font-family:'Liberation Sans','Noto Sans CJK KR','NanumGothic',sans-serif;letter-spacing:-0.38px">경기도 용인시 기흥구 흥덕1로 13</span>
<span class="t" style="top:1524.9px;left:326.0px;font-size:12.5px;font-family:'Liberation Sans','Noto Sans CJK KR','NanumGothic',sans-serif;letter-spacing:0.11px">www.scllab.co.kr</span>
<span class="t" style="top:1524.9px;left:431.0px;font-size:12.5px;font-family:'Liberation Sans','Noto Sans CJK KR','NanumGothic',sans-serif;letter-spacing:0.51px">Tel</span>
<span class="t" style="top:1526.4px;left:451.0px;font-size:10.5px;font-family:'Liberation Sans','Noto Sans CJK KR','NanumGothic',sans-serif;letter-spacing:-0.59px">02)</span>
<span class="t" style="top:1524.9px;left:466.0px;font-size:12.5px;font-family:'Liberation Sans','Noto Sans CJK KR','NanumGothic',sans-serif;letter-spacing:0.02px">790-6500</span>
<span class="t" style="top:1524.9px;left:530.0px;font-size:12.5px;font-family:'Liberation Sans','Noto Sans CJK KR','NanumGothic',sans-serif;letter-spacing:-0.42px">Fax</span>
<span class="t" style="top:1526.4px;left:553.0px;font-size:10.5px;font-family:'Liberation Sans','Noto Sans CJK KR','NanumGothic',sans-serif;letter-spacing:-0.59px">02)</span>
<span class="t" style="top:1524.9px;left:568.0px;font-size:12.5px;font-family:'Liberation Sans','Noto Sans CJK KR','NanumGothic',sans-serif;letter-spacing:0.02px">790-6509</span>
<span class="t" style="top:1521.4px;left:897.5px;font-size:11.5px;letter-spacing:-0.08px">Page 1 of 1</span>
<span class="t" style="top:1461.4px;left:49.0px;font-size:33.5px;font-weight:700;font-family:'Liberation Serif','Noto Serif CJK SC',serif;color:#1f6b98;font-style:italic;letter-spacing:-3.48px">SCL</span>
<span class="t" style="top:1493.4px;left:42.5px;font-size:8.6px;color:#222;letter-spacing:-0.59px">(재)서울의과학연구소</span>
<span class="t" style="top:1482.5px;left:144.7px;font-size:10.5px;color:#5a5a5a;letter-spacing:0.10px">CAP</span>
<span class="t" style="top:1492.5px;left:136.0px;font-size:5px;color:#666;letter-spacing:-0.17px">ACCREDITED</span>
<span class="t" style="top:1482.7px;left:202.0px;font-size:11.5px;font-weight:700;color:#2fa557;font-style:italic;letter-spacing:0.29px">EOA</span>
<span class="t" style="top:1485.7px;left:235.4px;font-size:6.8px;font-weight:700;color:#2a3a8a;letter-spacing:-0.88px">ANAB</span>
</footer>
</div>
</body>
</html>
